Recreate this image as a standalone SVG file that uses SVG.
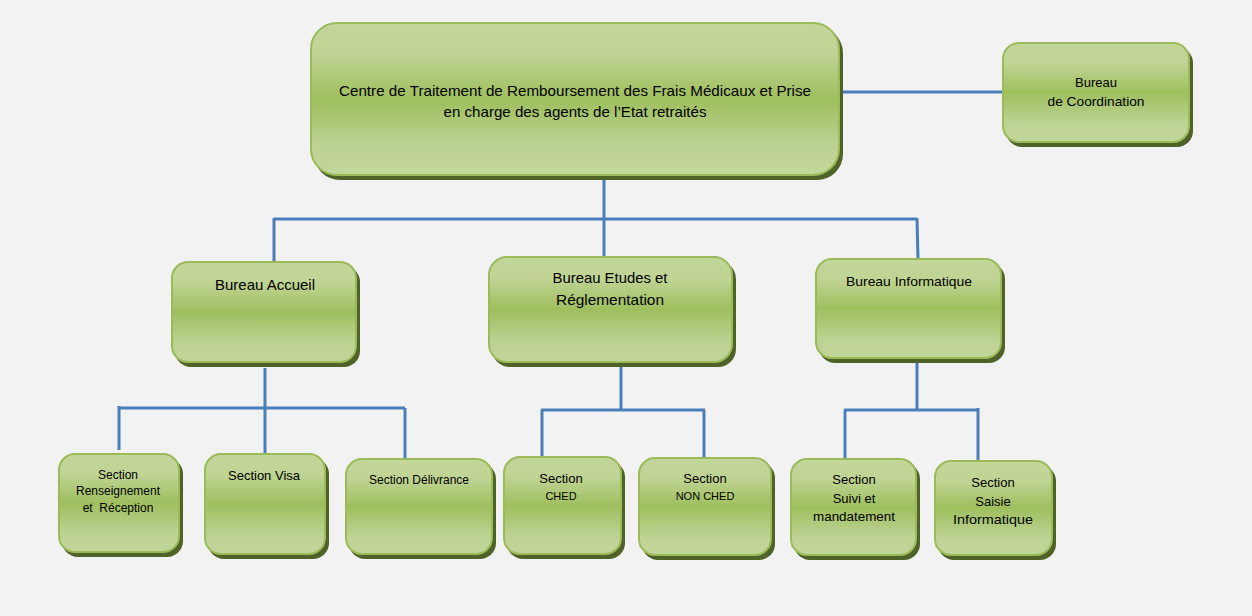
<svg xmlns="http://www.w3.org/2000/svg" width="1252" height="616" viewBox="0 0 1252 616">
<defs>
<linearGradient id="g" x1="0" y1="0" x2="0" y2="1">
<stop offset="0" stop-color="#c3d69b"/>
<stop offset="0.2" stop-color="#c0d495"/>
<stop offset="0.5" stop-color="#9fbf5e"/>
<stop offset="0.8" stop-color="#bcd292"/>
<stop offset="1" stop-color="#c3d69b"/>
</linearGradient>
</defs>
<style>
.sh{fill:#4f6228}
.bx{fill:url(#g);stroke:#9bbb59;stroke-width:2}
text{font-family:"Liberation Sans","Noto Sans",sans-serif;fill:#000;text-anchor:middle}
.c line{stroke:#4a7ebb;stroke-width:3}
</style>
<rect width="1252" height="616" fill="#f2f2f2"/>
<g class="c" id="connectors">
<line x1="840" y1="92" x2="1002" y2="92"/>
<line x1="604" y1="177" x2="604" y2="257"/>
<line x1="274" y1="219" x2="917" y2="219"/>
<line x1="274" y1="218" x2="274" y2="262"/>
<line x1="917" y1="218" x2="918" y2="259"/>
<line x1="265" y1="368" x2="265" y2="456"/>
<line x1="118" y1="408" x2="405" y2="408"/>
<line x1="119" y1="406" x2="119" y2="450"/>
<line x1="405" y1="408" x2="405" y2="459"/>
<line x1="621" y1="366" x2="621" y2="410"/>
<line x1="541" y1="410" x2="705" y2="410"/>
<line x1="542" y1="410" x2="542" y2="456"/>
<line x1="704" y1="410" x2="704" y2="459"/>
<line x1="917" y1="362" x2="917" y2="410"/>
<line x1="844" y1="410" x2="979" y2="410"/>
<line x1="845" y1="410" x2="845" y2="459"/>
<line x1="978" y1="408" x2="978" y2="462"/>
</g>
<g id="centre">
<rect class="sh" x="314" y="27" width="529" height="153" rx="26"/>
<rect class="bx" x="311" y="23" width="528" height="152" rx="26"/>
<text font-size="15" x="575" y="96" textLength="472" lengthAdjust="spacingAndGlyphs">Centre de Traitement de Remboursement des Frais Médicaux et Prise</text>
<text font-size="15" x="575" y="117" textLength="263" lengthAdjust="spacingAndGlyphs">en charge des agents de l’Etat retraités</text>
</g>
<g id="coordination">
<rect class="sh" x="1006" y="47" width="187" height="100" rx="16"/>
<rect class="bx" x="1003" y="43" width="186" height="99" rx="16"/>
<text font-size="13" x="1096" y="87">Bureau</text>
<text font-size="13" x="1096" y="106" textLength="97" lengthAdjust="spacingAndGlyphs">de Coordination</text>
</g>
<g id="accueil">
<rect class="sh" x="175" y="266" width="185" height="101" rx="16"/>
<rect class="bx" x="172" y="262" width="184" height="100" rx="16"/>
<text font-size="15" x="265" y="290" textLength="100" lengthAdjust="spacingAndGlyphs">Bureau Accueil</text>
</g>
<g id="etudes">
<rect class="sh" x="492" y="261" width="244" height="106" rx="18"/>
<rect class="bx" x="489" y="257" width="243" height="105" rx="18"/>
<text font-size="15" x="610" y="283" textLength="115" lengthAdjust="spacingAndGlyphs">Bureau Etudes et</text>
<text font-size="15" x="610" y="305" textLength="108" lengthAdjust="spacingAndGlyphs">Réglementation</text>
</g>
<g id="informatique">
<rect class="sh" x="819" y="263" width="186" height="100" rx="16"/>
<rect class="bx" x="816" y="259" width="185" height="99" rx="16"/>
<text font-size="13" x="909" y="286" textLength="126" lengthAdjust="spacingAndGlyphs">Bureau Informatique</text>
</g>
<g id="s-renseignement">
<rect class="sh" x="62" y="458" width="121" height="99" rx="16"/>
<rect class="bx" x="59" y="454" width="120" height="98" rx="16"/>
<text font-size="12" x="118" y="479">Section</text>
<text font-size="12" x="118" y="495" textLength="84" lengthAdjust="spacingAndGlyphs">Renseignement</text>
<text font-size="12" x="118" y="512" xml:space="preserve">et  Réception</text>
</g>
<g id="s-visa">
<rect class="sh" x="208" y="458" width="121" height="101" rx="16"/>
<rect class="bx" x="205" y="454" width="120" height="100" rx="16"/>
<text font-size="13" x="264" y="480">Section Visa</text>
</g>
<g id="s-delivrance">
<rect class="sh" x="349" y="463" width="147" height="96" rx="16"/>
<rect class="bx" x="346" y="459" width="146" height="95" rx="16"/>
<text font-size="12" x="419" y="484" textLength="100" lengthAdjust="spacingAndGlyphs">Section Délivrance</text>
</g>
<g id="s-ched">
<rect class="sh" x="507" y="461" width="118" height="98" rx="16"/>
<rect class="bx" x="504" y="457" width="117" height="97" rx="16"/>
<text font-size="13" x="561" y="483">Section</text>
<text font-size="11" x="561" y="500">CHED</text>
</g>
<g id="s-nonched">
<rect class="sh" x="642" y="462" width="133" height="98" rx="16"/>
<rect class="bx" x="639" y="458" width="132" height="97" rx="16"/>
<text font-size="13" x="705" y="483">Section</text>
<text font-size="11" x="705" y="500">NON CHED</text>
</g>
<g id="s-suivi">
<rect class="sh" x="794" y="463" width="126" height="97" rx="16"/>
<rect class="bx" x="791" y="459" width="125" height="96" rx="16"/>
<text font-size="13" x="854" y="484">Section</text>
<text font-size="13" x="854" y="503">Suivi et</text>
<text font-size="13" x="854" y="521" textLength="82" lengthAdjust="spacingAndGlyphs">mandatement</text>
</g>
<g id="s-saisie">
<rect class="sh" x="938" y="465" width="118" height="95" rx="16"/>
<rect class="bx" x="935" y="461" width="117" height="94" rx="16"/>
<text font-size="13" x="993" y="487">Section</text>
<text font-size="13" x="993" y="506">Saisie</text>
<text font-size="13" x="993" y="524" textLength="80" lengthAdjust="spacingAndGlyphs">Informatique</text>
</g>
</svg>
